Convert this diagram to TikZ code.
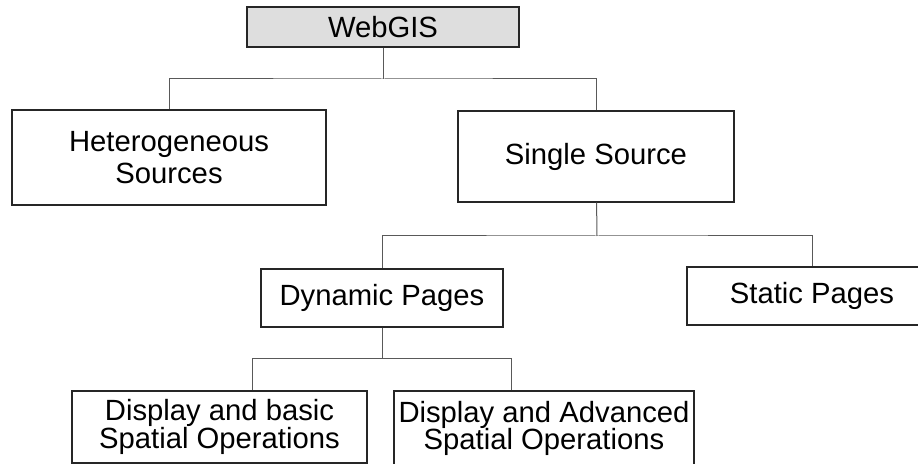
\documentclass[tikz,border=0pt]{standalone}
\usepackage{fontspec}
\setmainfont{Liberation Sans}
\tikzset{
    box/.style={draw=black!85, line width=0.3mm, inner sep=0pt, align=center,
        font=\fontsize{20.8}{22.8}\selectfont},
    link/.style={draw=black!65, line width=0.25mm},
}
\begin{document}
\begin{tikzpicture}[x=0.25mm,y=-0.25mm]
    \useasboundingbox (0,0) rectangle (918,464);

    \node[box, fill=black!13, minimum width=68mm, minimum height=10mm] (webgis) at (383,27) {WebGIS};
    \node[box, minimum width=78.5mm, minimum height=23.75mm] (hetero) at (169,157.5) {Heterogeneous\\Sources};
    \node[box, minimum width=69mm, minimum height=22.75mm] (single) at (596,156.5) {Single Source};
    \node[box, minimum width=60.5mm, minimum height=14.5mm] (dynamic) at (382,298) {Dynamic Pages};
    \node[box, minimum width=62.5mm, minimum height=14.5mm] (static) at (812,296) {Static Pages};
    \node[box, font=\fontsize{20.8}{19.5}\selectfont, minimum width=73.75mm, minimum height=18mm] (basic) at (219.5,427) {Display and basic\\Spatial Operations};
    \node[box, font=\fontsize{20.8}{19.5}\selectfont, minimum width=75mm, minimum height=18.75mm] (advanced) at (544,428.5) {Display and Advanced\\Spatial Operations};

    \coordinate (top) at (383,79);
    \coordinate (mid) at (597,236);
    \coordinate (low) at (382,358);
    \coordinate (lowl) at (252,358);
    \coordinate (lowr) at (511,358);

    \draw[link] (webgis) -- (top);
    \draw[link] (hetero) |- (top) -| (single);
    \draw[link] (single) -- (mid);
    \draw[link] (dynamic) |- (mid) -| (static);
    \draw[link] (dynamic) -- (low);
    \draw[link] (lowl) -- (lowr);
    \draw[link] (lowl) -- (lowl |- basic.north);
    \draw[link] (lowr) -- (lowr |- advanced.north);
\end{tikzpicture}
\end{document}
